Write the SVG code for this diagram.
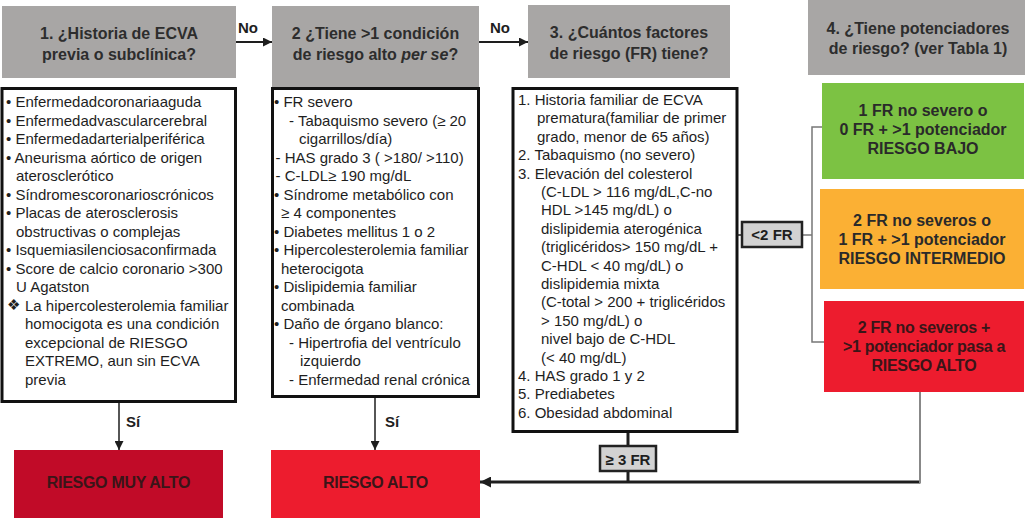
<svg xmlns="http://www.w3.org/2000/svg" width="1033" height="518" viewBox="0 0 1033 518">
<style>
.hdr{fill:#a8a6a5}
.ht{font-family:"Liberation Sans",Arial,sans-serif;font-weight:bold;font-size:16px;fill:#2d2d2d;text-anchor:middle}
.bt{font-family:"Liberation Sans","DejaVu Sans",Arial,sans-serif;font-size:15px;fill:#1e1e1e}
.wb{fill:#fff;stroke:#111;stroke-width:3}
.lbl{font-family:"Liberation Sans",Arial,sans-serif;font-weight:bold;font-size:15px;fill:#1e1e1e}
.tag{fill:#d2d2d2;stroke:#222;stroke-width:2.5}
.rt{font-family:"Liberation Sans",Arial,sans-serif;font-weight:bold;font-size:16px;fill:#2a2a2a;text-anchor:middle}
.rk{font-family:"Liberation Sans",Arial,sans-serif;font-weight:bold;font-size:16px;fill:#3a1518;text-anchor:middle;letter-spacing:-0.3px}
.ln{fill:none;stroke:#1e1e1e}
</style>
<defs>
<marker id="ah" viewBox="0 0 10 10" refX="10" refY="5" markerWidth="10" markerHeight="9" markerUnits="userSpaceOnUse" orient="auto"><path d="M0,0 L10,5 L0,10 z" fill="#1e1e1e"/></marker>
<marker id="ahb" viewBox="0 0 10 10" refX="10" refY="5" markerWidth="12" markerHeight="11" markerUnits="userSpaceOnUse" orient="auto"><path d="M0,0 L10,5 L0,10 z" fill="#1e1e1e"/></marker>
</defs>

<g id="q1">
<rect class="hdr" x="2" y="6" width="234" height="72"/>
<text class="ht" x="119" y="39">1. ¿Historia de ECVA</text>
<text class="ht" x="119" y="60">previa o subclínica?</text>
</g>
<g id="q2">
<rect class="hdr" x="272" y="6" width="207" height="81"/>
<text class="ht" x="375.5" y="39">2 ¿Tiene &gt;1 condición</text>
<text class="ht" x="375.5" y="60">de riesgo alto <tspan font-style="italic">per se</tspan>?</text>
</g>
<g id="q3">
<rect class="hdr" x="528" y="5" width="202" height="73"/>
<text class="ht" x="629" y="38">3. ¿Cuántos factores</text>
<text class="ht" x="629" y="59">de riesgo (FR) tiene?</text>
</g>
<g id="q4">
<rect class="hdr" x="808" y="0" width="217" height="75"/>
<text class="ht" x="918" y="34">4. ¿Tiene potenciadores</text>
<text class="ht" x="918" y="54">de riesgo? (ver Tabla 1)</text>
</g>

<g id="list1">
<rect class="wb" x="2" y="88.5" width="233.5" height="313"/>
<text class="bt" x="6" y="107">• Enfermedadcoronariaaguda</text>
<text class="bt" x="6" y="125.5">• Enfermedadvascularcerebral</text>
<text class="bt" x="6" y="144">• Enfermedadarterialperiférica</text>
<text class="bt" x="6" y="162.5">• Aneurisma aórtico de origen</text>
<text class="bt" x="16" y="181">aterosclerótico</text>
<text class="bt" x="6" y="199.5">• Síndromescoronarioscrónicos</text>
<text class="bt" x="6" y="218">• Placas de aterosclerosis</text>
<text class="bt" x="16" y="236.5">obstructivas o complejas</text>
<text class="bt" x="6" y="255">• Isquemiasilenciosaconfirmada</text>
<text class="bt" x="6" y="273.5">• Score de calcio coronario &gt;300</text>
<text class="bt" x="16" y="292">U Agatston</text>
<text class="bt" x="7" y="309.5" font-size="11" fill="#666">❖</text>
<text class="bt" x="25" y="310.5">La hipercolesterolemia familiar</text>
<text class="bt" x="25" y="329">homocigota es una condición</text>
<text class="bt" x="25" y="347.5">excepcional de RIESGO</text>
<text class="bt" x="25" y="366">EXTREMO, aun sin ECVA</text>
<text class="bt" x="25" y="384.5">previa</text>
</g>

<g id="list2">
<rect class="wb" x="272.5" y="88.5" width="206" height="308"/>
<text class="bt" x="274" y="107">• FR severo</text>
<text class="bt" x="289" y="125.5">- Tabaquismo severo (≥ 20</text>
<text class="bt" x="299" y="144">cigarrillos/día)</text>
<text class="bt" x="275.5" y="162.5">- HAS grado 3 ( &gt;180/ &gt;110)</text>
<text class="bt" x="275.5" y="181">- C-LDL≥ 190 mg/dL</text>
<text class="bt" x="274" y="199.5">• Síndrome metabólico con</text>
<text class="bt" x="281" y="218">≥ 4 componentes</text>
<text class="bt" x="274" y="236.5">• Diabetes mellitus 1 o 2</text>
<text class="bt" x="274" y="255">• Hipercolesterolemia familiar</text>
<text class="bt" x="281" y="273.5">heterocigota</text>
<text class="bt" x="274" y="292">• Dislipidemia familiar</text>
<text class="bt" x="281" y="310.5">combinada</text>
<text class="bt" x="274" y="329">• Daño de órgano blanco:</text>
<text class="bt" x="289" y="347.5">- Hipertrofia del ventrículo</text>
<text class="bt" x="300" y="366">izquierdo</text>
<text class="bt" x="289" y="384.5">- Enfermedad renal crónica</text>
</g>

<g id="list3">
<rect class="wb" x="513" y="88.5" width="224" height="343"/>
<text class="bt" x="518" y="105">1. Historia familiar de ECVA</text>
<text class="bt" x="537" y="123.4">prematura(familiar de primer</text>
<text class="bt" x="537" y="141.8">grado, menor de 65 años)</text>
<text class="bt" x="518" y="160.2">2. Tabaquismo (no severo)</text>
<text class="bt" x="518" y="178.6">3. Elevación del colesterol</text>
<text class="bt" x="541" y="197">(C-LDL &gt; 116 mg/dL,C-no</text>
<text class="bt" x="541" y="215.4">HDL &gt;145 mg/dL) o</text>
<text class="bt" x="541" y="233.8">dislipidemia aterogénica</text>
<text class="bt" x="541" y="252.2">(triglicéridos&gt; 150 mg/dL +</text>
<text class="bt" x="541" y="270.6">C-HDL &lt; 40 mg/dL) o</text>
<text class="bt" x="541" y="289">dislipidemia mixta</text>
<text class="bt" x="541" y="307.4">(C-total &gt; 200 + triglicéridos</text>
<text class="bt" x="541" y="325.8">&gt; 150 mg/dL) o</text>
<text class="bt" x="541" y="344.2">nivel bajo de C-HDL</text>
<text class="bt" x="541" y="362.6">(&lt; 40 mg/dL)</text>
<text class="bt" x="518" y="381">4. HAS grado 1 y 2</text>
<text class="bt" x="518" y="399.4">5. Prediabetes</text>
<text class="bt" x="518" y="417.8">6. Obesidad abdominal</text>
</g>

<g id="bajo">
<rect x="822" y="83" width="202" height="96" fill="#7cc243"/>
<text class="rt" x="923" y="116">1 FR no severo o</text>
<text class="rt" x="923" y="135">0 FR + &gt;1 potenciador</text>
<text class="rt" x="923" y="154">RIESGO BAJO</text>
</g>
<g id="intermedio">
<rect x="820" y="189" width="204" height="100" fill="#fbb034"/>
<text class="rt" x="922" y="226">2 FR no severos o</text>
<text class="rt" x="922" y="245">1 FR + &gt;1 potenciador</text>
<text class="rt" x="922" y="264">RIESGO INTERMEDIO</text>
</g>
<g id="alto-pot">
<rect x="824" y="301" width="200" height="91" fill="#ed1c2e"/>
<text class="rk" x="924" y="333">2 FR no severos +</text>
<text class="rk" x="924" y="352">&gt;1 potenciador pasa a</text>
<text class="rk" x="924" y="371">RIESGO ALTO</text>
</g>

<g id="muy-alto">
<rect x="14" y="450" width="209" height="68" fill="#c10b28"/>
<text class="rk" x="118.5" y="488">RIESGO MUY ALTO</text>
</g>
<g id="alto">
<rect x="271" y="450" width="209" height="68" fill="#ed1c2e"/>
<text class="rk" x="375.5" y="488">RIESGO ALTO</text>
</g>

<g id="connectors">
<line class="ln" x1="236" y1="42" x2="272" y2="42" stroke-width="2" marker-end="url(#ah)"/>
<text class="lbl" x="238" y="33">No</text>
<line class="ln" x1="479" y1="42" x2="528" y2="42" stroke-width="2" marker-end="url(#ah)"/>
<text class="lbl" x="490" y="33">No</text>
<line class="ln" x1="119" y1="403" x2="119" y2="450" stroke-width="1.5" marker-end="url(#ah)"/>
<text class="lbl" x="126" y="427">Sí</text>
<line class="ln" x1="375" y1="398" x2="375" y2="450" stroke-width="1.5" marker-end="url(#ah)"/>
<text class="lbl" x="385" y="427">Sí</text>
<line class="ln" x1="628" y1="433" x2="628" y2="482" stroke-width="3"/>
<line class="ln" x1="920" y1="482" x2="480" y2="482" stroke-width="3" marker-end="url(#ahb)"/>
<line x1="920" y1="392" x2="920" y2="483.5" stroke="#888" stroke-width="2"/>
<line class="ln" x1="737" y1="235" x2="742" y2="235" stroke-width="1.5"/>
<path d="M822,127 H812 V342 H824 M802,235 H812" fill="none" stroke="#777" stroke-width="1.5"/>
<rect class="tag" x="742" y="222" width="60" height="25"/>
<text class="lbl" x="772" y="240" text-anchor="middle" fill="#333">&lt;2 FR</text>
<rect class="tag" x="600" y="446" width="56" height="25"/>
<text class="lbl" x="628" y="465" text-anchor="middle" font-size="16" fill="#333">≥ 3 FR</text>
</g>
</svg>
